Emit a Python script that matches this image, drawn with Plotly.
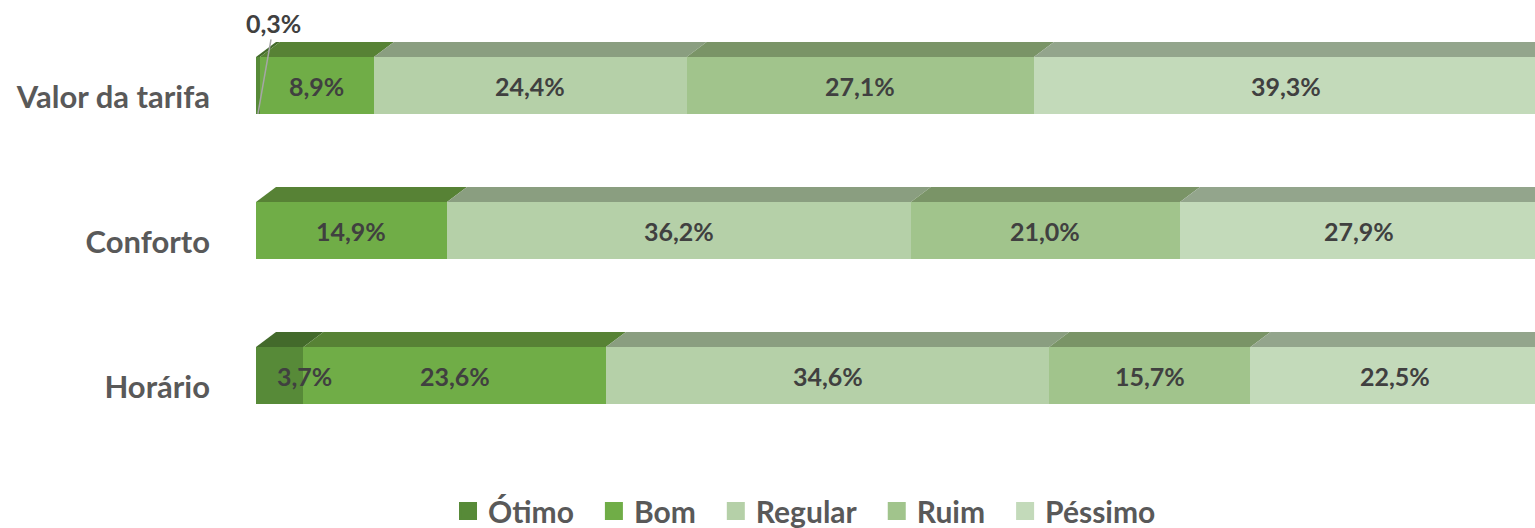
import plotly.graph_objects as go

categories = ["Horário", "Conforto", "Valor da tarifa"]
series_names = ["Ótimo", "Bom", "Regular", "Ruim", "Péssimo"]
otimo = [3.7, 0.0, 0.3]
bom = [23.6, 14.9, 8.9]
regular = [34.6, 36.2, 24.4]
ruim = [15.7, 21.0, 27.1]
pessimo = [22.5, 27.9, 39.3]
values = [otimo, bom, regular, ruim, pessimo]

front_colors = ["#578A38", "#70AD47", "#B5D0A8", "#A1C48C", "#C3DABA"]
top_colors = ["#436A2B", "#578235", "#8A9E80", "#7A9467", "#93A58C"]

FONT = "Lato"
bar_w = 0.393
depth_x = 1.56
depth_y = 0.103
label_xshift = {(0, 0): 25}

fig = go.Figure()
ypos = list(range(len(categories)))

for s, name in enumerate(series_names):
    fig.add_trace(go.Bar(
        name=name, orientation="h", y=ypos, x=values[s], width=bar_w,
        marker=dict(color=front_colors[s], line=dict(width=0)),
        hoverinfo="skip", showlegend=False,
    ))
    # legend-only entry with a larger square swatch
    fig.add_trace(go.Scatter(
        name=name + "\u2002", x=[None], y=[None], mode="markers",
        marker=dict(symbol="square", size=16, color=front_colors[s],
                    line=dict(width=2, color=front_colors[s])),
        showlegend=True, hoverinfo="skip",
    ))

shapes = []
annotations = []
for i, cat in enumerate(categories):
    cum = 0.0
    top = i + bar_w / 2
    for s in range(len(series_names)):
        v = values[s][i]
        if v <= 0:
            continue
        x0, x1 = cum, cum + v
        path = (f"M {x0},{top} L {x1},{top} L {x1 + depth_x},{top + depth_y} "
                f"L {x0 + depth_x},{top + depth_y} Z")
        shapes.append(dict(type="path", xref="x", yref="y", path=path,
                           fillcolor=top_colors[s], line=dict(width=0), layer="above"))
        label = f"{v:.1f}".replace(".", ",") + "%"
        if v >= 1:
            annotations.append(dict(
                x=(x0 + x1) / 2, y=i, xref="x", yref="y",
                text=label, showarrow=False,
                xshift=label_xshift.get((s, i), 0),
                font=dict(family=FONT, size=25, color="#404040", weight="bold"),
            ))
        else:
            annotations.append(dict(
                x=(x0 + x1) / 2, y=i - bar_w / 2, xref="x", yref="y",
                text=label, showarrow=True,
                arrowhead=0, arrowwidth=1.5, arrowcolor="#A6A6A6",
                ax=16, ay=-91, standoff=0,
                font=dict(family=FONT, size=25, color="#404040", weight="bold"),
            ))
        cum = x1

fig.update_layout(
    width=1535, height=528,
    barmode="stack",
    margin=dict(l=256, r=0, t=13, b=80),
    plot_bgcolor="white", paper_bgcolor="white",
    shapes=shapes, annotations=annotations,
    xaxis=dict(range=[0, 99.8], visible=False, showgrid=False, zeroline=False, fixedrange=True),
    yaxis=dict(range=[-0.5, 2.5], tickvals=ypos, ticktext=categories,
               showgrid=False, zeroline=False, showline=False, ticks="",
               ticklabelstandoff=45, ticklabelshift=12, fixedrange=True,
               tickfont=dict(family=FONT, size=31, color="#595959", weight="bold")),
    legend=dict(orientation="h", xref="container", yref="container",
                x=0.529, y=0.032, xanchor="center", yanchor="middle",
                font=dict(family=FONT, size=30, color="#595959", weight="bold"),
                itemwidth=30, traceorder="normal", tracegroupgap=0),
    showlegend=True,
)

fig.write_html("out.html", config={"displayModeBar": False},
               post_script="document.body.style.margin='0';document.body.style.overflow='hidden';")
